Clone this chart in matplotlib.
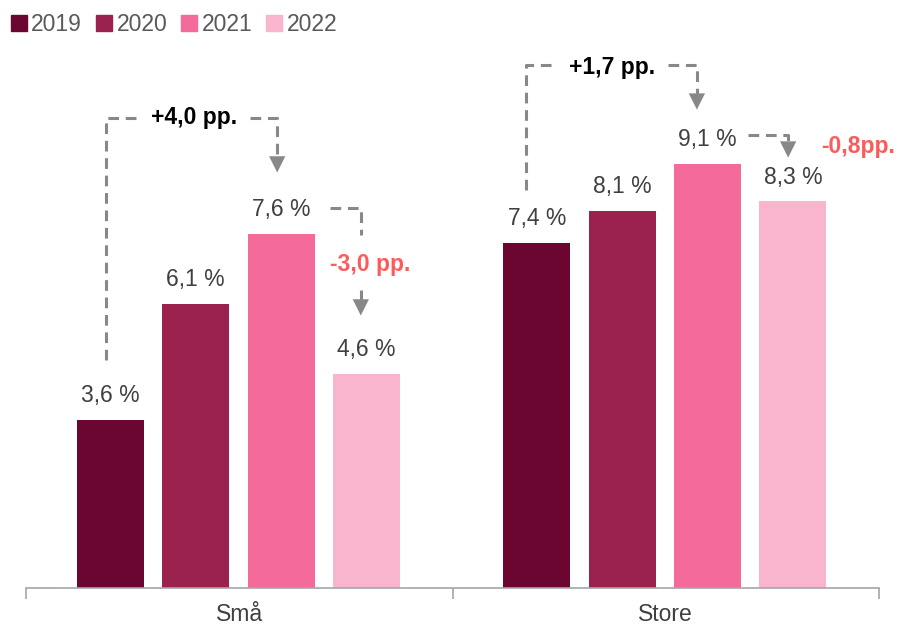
import numpy as np
import matplotlib.pyplot as plt
from matplotlib.patches import Patch

plt.rcParams['font.family'] = ['Liberation Sans', 'DejaVu Sans']

# data
categories = ['Små', 'Store']
years = ['2019', '2020', '2021', '2022']
values = {
    '2019': [3.6, 7.4],
    '2020': [6.1, 8.1],
    '2021': [7.6, 9.1],
    '2022': [4.6, 8.3],
}
colors = ['#6B0630', '#9B214E', '#F46A9B', '#F9B5CD']

fig = plt.figure(figsize=(9.01, 6.26), dpi=100)
ax = fig.add_axes([26 / 901, 38 / 626, 853 / 901, 559 / 626])

x = np.arange(len(categories))
step = 0.2
width = 0.157
offsets = (np.arange(len(years)) - 1.5) * step

for i, yr in enumerate(years):
    bars = ax.bar(x + offsets[i] - 0.002, values[yr], width, color=colors[i], zorder=2)
    for b, v in zip(bars, values[yr]):
        ax.annotate(f"{v:.1f} %".replace('.', ','),
                    (b.get_x() + b.get_width() / 2, v),
                    xytext=(0, 17.5), textcoords='offset points',
                    ha='center', va='center', fontsize=16.5, color='#404040')

ax.set_xlim(-0.5, 1.5)
ax.set_ylim(0, 12)
for s in ['top', 'right', 'left']:
    ax.spines[s].set_visible(False)
ax.spines['bottom'].set_color('#A6A6A6')
ax.spines['bottom'].set_linewidth(1.2)
ax.set_yticks([])
ax.set_xticks([-0.5, 0.5, 1.5])
ax.set_xticklabels([])
ax.tick_params(axis='x', direction='out', length=8, color='#A6A6A6', width=1.2)
for xi, c in zip(x, categories):
    ax.text(xi, -0.57, c, ha='center', va='center', fontsize=16.5, color='#404040')

# annotations
dash = dict(color='#888888', lw=2.2, ls=(0, (3.5, 2.2)), zorder=3)
arrow = dict(arrowstyle='-|>,head_width=0.45,head_length=0.9', color='#888888',
             lw=0, mutation_scale=13)


def down_arrow(xp, tip):
    ax.annotate('', xy=(xp, tip), xytext=(xp, tip + 0.5), arrowprops=arrow)


def change_text(xp, yp, s, col):
    ax.text(xp, yp, s, ha='center', va='center', fontsize=16.5,
            fontweight='bold', color=col)


# Små: 2019 -> 2021
ax.plot([-0.312, -0.312, -0.237], [4.89, 10.09, 10.09], **dash)
ax.plot([0.025, 0.089, 0.089], [10.09, 10.09, 9.2], **dash)
down_arrow(0.089, 8.86)
change_text(-0.106, 10.09, '+4,0 pp.', 'black')

# Små: 2021 -> 2022
ax.plot([0.213, 0.285, 0.285], [8.15, 8.15, 7.57], **dash)
ax.plot([0.285, 0.285], [6.39, 6.15], **dash)
down_arrow(0.285, 5.79)
change_text(0.307, 6.95, '-3,0 pp.', '#FF5A5A')

# Store: 2019 -> 2021
ax.plot([0.672, 0.672, 0.740], [8.54, 11.22, 11.22], **dash)
ax.plot([1.005, 1.073, 1.073], [11.22, 11.22, 10.55], **dash)
down_arrow(1.073, 10.21)
change_text(0.874, 11.18, '+1,7 pp.', 'black')

# Store: 2021 -> 2022
ax.plot([1.193, 1.287, 1.287], [9.72, 9.72, 9.55], **dash)
down_arrow(1.287, 9.18)
change_text(1.451, 9.48, '-0,8pp.', '#FF5A5A')

handles = [Patch(color=c, label=y) for c, y in zip(colors, years)]
fig.legend(handles=handles, loc='upper left', bbox_to_anchor=(-0.011, 1.012),
           ncol=4, frameon=False, fontsize=16.5, handlelength=0.7,
           handleheight=0.7, handletextpad=0.2, columnspacing=0.6,
           labelcolor='#595959')

fig.savefig('out.png', dpi=100)
